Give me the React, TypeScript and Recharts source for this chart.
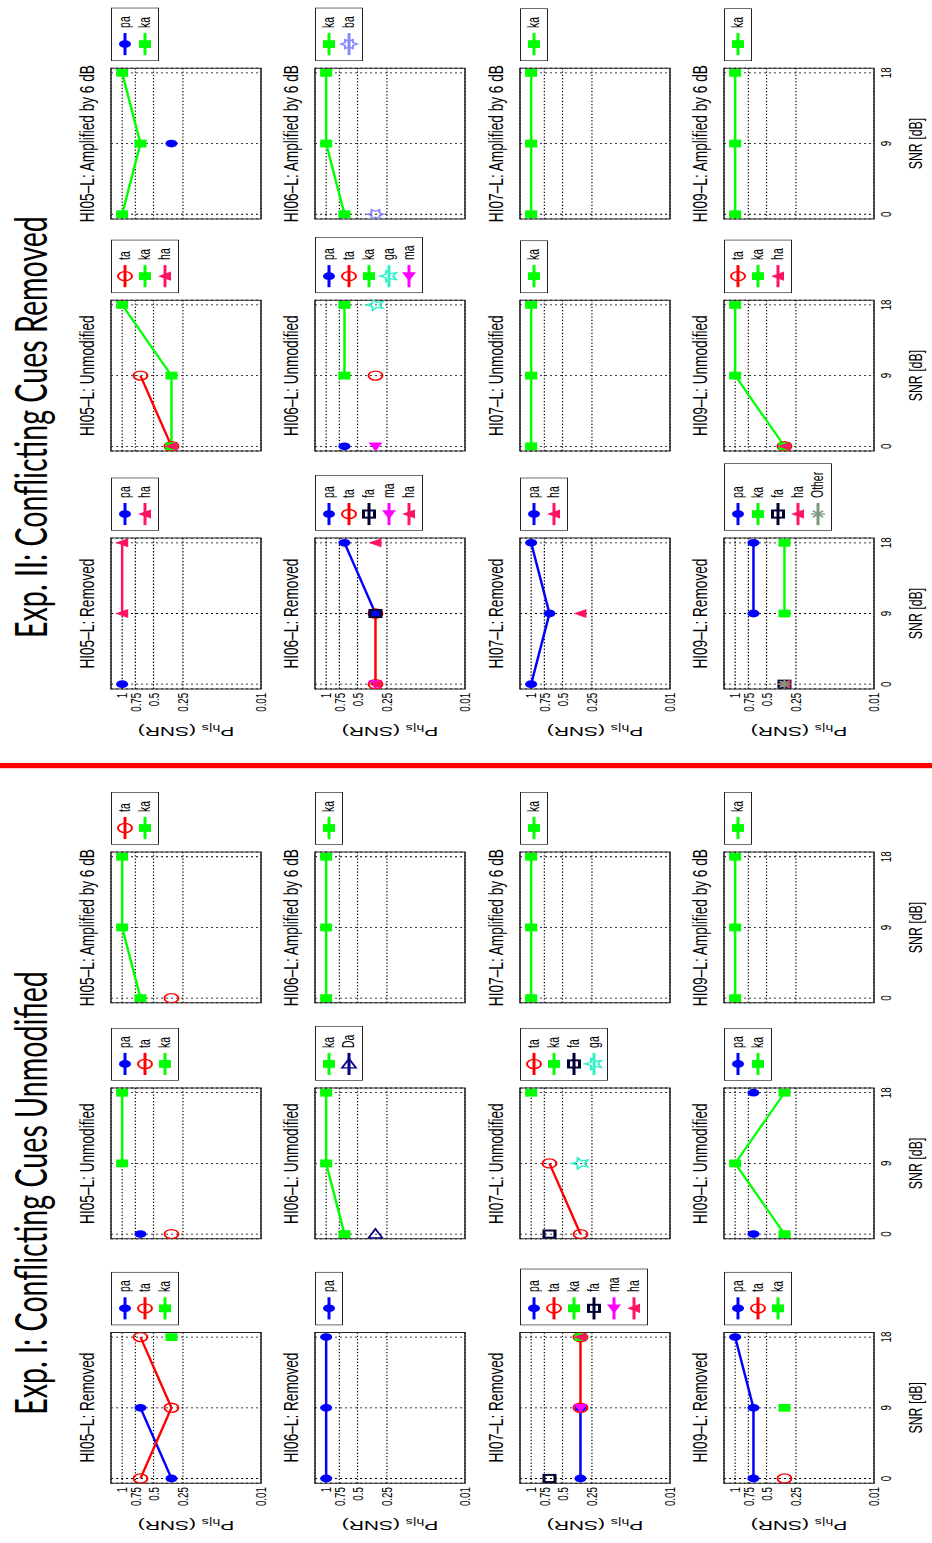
import React from 'react';
import { LineChart, Line, XAxis, YAxis, CartesianGrid, ReferenceArea, Legend } from 'recharts';

const SNR = [0, 9, 18];
const Y_TICKS = [0.01, 0.25, 0.5, 0.75, 1];
const SUBJECTS = ['HI05', 'HI06', 'HI07', 'HI09'];
const CONDITIONS = ['Removed', 'Unmodified', 'Amplified by 6 dB'];
const EXP_TITLES = ['Exp. I: Conflicting Cues Unmodified', 'Exp. II: Conflicting Cues Removed'];

type Vals = Record<string, (number | null)[]>;

// values at SNR 0, 9, 18 dB; null = response not given
// Exp. I
const e1Hi05Rem: Vals = { pa: [0.33, 0.67, null], ta: [0.67, 0.33, 0.67], ka: [null, null, 0.33] };
const e1Hi05Unm: Vals = { pa: [0.67, null, null], ta: [0.33, null, null], ka: [null, 1, 1] };
const e1Hi05Amp: Vals = { ta: [0.33, null, null], ka: [0.67, 1, 1] };
const e1Hi06Rem: Vals = { pa: [1, 1, 1] };
const e1Hi06Unm: Vals = { ka: [0.67, 1, 1], Da: [0.33, null, null] };
const e1Hi06Amp: Vals = { ka: [1, 1, 1] };
const e1Hi07Rem: Vals = { pa: [0.33, 0.33, null], ta: [null, 0.33, 0.33], ka: [null, null, 0.33], fa: [0.67, null, null], ma: [null, 0.33, null], ha: [null, null, 0.33] };
const e1Hi07Unm: Vals = { ta: [0.33, 0.67, null], ka: [null, null, 1], fa: [0.67, null, null], ga: [null, 0.33, null] };
const e1Hi07Amp: Vals = { ka: [1, 1, 1] };
const e1Hi09Rem: Vals = { pa: [0.67, 0.67, 1], ta: [0.33, null, null], ka: [null, 0.33, null] };
const e1Hi09Unm: Vals = { pa: [0.67, null, 0.67], ka: [0.33, 1, 0.33] };
const e1Hi09Amp: Vals = { ka: [1, 1, 1] };

// Exp. II
const e2Hi05Rem: Vals = { pa: [1, null, null], ha: [null, 1, 1] };
const e2Hi05Unm: Vals = { ta: [0.33, 0.67, null], ka: [0.33, 0.33, 1], ha: [0.33, null, null] };
const e2Hi05Amp: Vals = { pa: [null, 0.33, null], ka: [1, 0.67, 1] };
const e2Hi06Rem: Vals = { pa: [null, 0.33, 0.67], ta: [0.33, 0.33, null], fa: [null, 0.33, null], ma: [0.33, null, null], ha: [0.33, null, 0.33] };
const e2Hi06Unm: Vals = { pa: [0.67, null, null], ta: [null, 0.33, null], ka: [null, 0.67, 0.67], ga: [null, null, 0.33], ma: [0.33, null, null] };
const e2Hi06Amp: Vals = { ka: [0.67, 1, 1], ba: [0.33, null, null] };
const e2Hi07Rem: Vals = { pa: [1, 0.67, 1], ha: [null, 0.33, null] };
const e2Hi07Unm: Vals = { ka: [1, 1, 1] };
const e2Hi07Amp: Vals = { ka: [1, 1, 1] };
const e2Hi09Rem: Vals = { pa: [null, 0.67, 0.67], ka: [null, 0.33, 0.33], fa: [0.33, null, null], ha: [0.33, null, null], Other: [0.33, null, null] };
const e2Hi09Unm: Vals = { ta: [0.33, null, null], ka: [0.33, 1, 1], ha: [0.33, null, null] };
const e2Hi09Amp: Vals = { ka: [1, 1, 1] };

const PANELS = [
  { exp: 0, row: 0, cond: 0, vals: e1Hi05Rem }, { exp: 0, row: 0, cond: 1, vals: e1Hi05Unm }, { exp: 0, row: 0, cond: 2, vals: e1Hi05Amp },
  { exp: 0, row: 1, cond: 0, vals: e1Hi06Rem }, { exp: 0, row: 1, cond: 1, vals: e1Hi06Unm }, { exp: 0, row: 1, cond: 2, vals: e1Hi06Amp },
  { exp: 0, row: 2, cond: 0, vals: e1Hi07Rem }, { exp: 0, row: 2, cond: 1, vals: e1Hi07Unm }, { exp: 0, row: 2, cond: 2, vals: e1Hi07Amp },
  { exp: 0, row: 3, cond: 0, vals: e1Hi09Rem }, { exp: 0, row: 3, cond: 1, vals: e1Hi09Unm }, { exp: 0, row: 3, cond: 2, vals: e1Hi09Amp },
  { exp: 1, row: 0, cond: 0, vals: e2Hi05Rem }, { exp: 1, row: 0, cond: 1, vals: e2Hi05Unm }, { exp: 1, row: 0, cond: 2, vals: e2Hi05Amp },
  { exp: 1, row: 1, cond: 0, vals: e2Hi06Rem }, { exp: 1, row: 1, cond: 1, vals: e2Hi06Unm }, { exp: 1, row: 1, cond: 2, vals: e2Hi06Amp },
  { exp: 1, row: 2, cond: 0, vals: e2Hi07Rem }, { exp: 1, row: 2, cond: 1, vals: e2Hi07Unm }, { exp: 1, row: 2, cond: 2, vals: e2Hi07Amp },
  { exp: 1, row: 3, cond: 0, vals: e2Hi09Rem }, { exp: 1, row: 3, cond: 1, vals: e2Hi09Unm }, { exp: 1, row: 3, cond: 2, vals: e2Hi09Amp },
];

const STYLE: Record<string, { color: string }> = {
  pa: { color: '#0000FF' },
  ta: { color: '#FF0000' },
  ka: { color: '#00FF00' },
  fa: { color: '#000033' },
  ma: { color: '#FF00FF' },
  ha: { color: '#FF1463' },
  ga: { color: '#33F0C8' },
  Da: { color: '#000080' },
  ba: { color: '#8888FF' },
  Other: { color: '#7A9A7A' },
};

// the original figure is squeezed horizontally; draw wide, then squeeze and turn
const S = 0.65;
const FONT = "'Liberation Sans', Arial, Helvetica, sans-serif";
const ROW_TOP = [111, 315, 520, 724];
const COL_LEFT = [60, 304, 540, 854, 1092, 1324];

// warped log scale of the y axis (0.01 .. ~1.27)
const OFF = 0.05;
const tr = (p: number) => Math.log10(p + OFF);
const Y_MIN = tr(0.01);
const Y_MAX = tr(1) + 0.1;

const PL = 95;
const PW = 232;
const PR = 150;
const PT = 45;
const PH = 150;
const PB = 55;

function star(x: number, y: number, n: number, ro: number, ri: number) {
  const pts: string[] = [];
  for (let i = 0; i < n * 2; i++) {
    const r = i % 2 === 0 ? ro : ri;
    const a = -Math.PI / 2 + (i * Math.PI) / n;
    pts.push(`${x + r * Math.cos(a)},${y + r * Math.sin(a)}`);
  }
  return pts.join(' ');
}

function Marker({ kind, x, y }: { kind: string; x: number; y: number }) {
  const c = STYLE[kind].color;
  switch (kind) {
    case 'pa':
      return <circle cx={x} cy={y} r={6} fill={c} />;
    case 'ta':
      return <circle cx={x} cy={y} r={7} fill="none" stroke={c} strokeWidth={2} />;
    case 'ka':
      return <rect x={x - 6} y={y - 6} width={12} height={12} fill={c} />;
    case 'fa':
      return <rect x={x - 5.5} y={y - 5.5} width={11} height={11} fill="none" stroke={c} strokeWidth={3} />;
    case 'ma':
      return <polygon points={`${x - 8},${y} ${x + 6},${y - 7} ${x + 6},${y + 7}`} fill={c} />;
    case 'ha':
      return <polygon points={`${x},${y - 7} ${x - 7},${y + 6} ${x + 7},${y + 6}`} fill={c} />;
    case 'Da':
      return <polygon points={`${x + 8},${y} ${x - 6},${y - 7} ${x - 6},${y + 7}`} fill="none" stroke={c} strokeWidth={2} />;
    case 'ga':
      return <polygon points={star(x, y, 5, 9, 4)} fill="none" stroke={c} strokeWidth={2} />;
    case 'ba':
      return <polygon points={star(x, y, 6, 8, 4.5)} fill="none" stroke={c} strokeWidth={2} />;
    default:
      return (
        <g stroke={c} strokeWidth={2}>
          <line x1={x - 7} x2={x + 7} y1={y} y2={y} />
          <line x1={x} x2={x} y1={y - 7} y2={y + 7} />
          <line x1={x - 5} x2={x + 5} y1={y - 5} y2={y + 5} />
          <line x1={x - 5} x2={x + 5} y1={y + 5} y2={y - 5} />
        </g>
      );
  }
}

const dotFor = (k: string) => (p: any) => {
  const key = `${k}-${p.index}`;
  if (p.cx == null || p.cy == null || Number.isNaN(p.cy) || p.value == null) return <g key={key} />;
  return (
    <g key={key}>
      <Marker kind={k} x={p.cx} y={p.cy} />
    </g>
  );
};

function LegendBox({ keys }: { keys: string[] }) {
  return (
    <div style={{ border: '1.5px solid #222', background: '#fff', padding: '3px 12px 3px 8px', display: 'inline-block' }}>
      {keys.map((k) => (
        <div key={k} style={{ display: 'flex', alignItems: 'center', height: 20 }}>
          <svg width={34} height={20} style={{ overflow: 'visible' }}>
            <line x1={0} x2={34} y1={10} y2={10} stroke={STYLE[k].color} strokeWidth={3} />
            <Marker kind={k} x={17} y={10} />
          </svg>
          <span style={{ marginLeft: 8, fontSize: 16, lineHeight: '20px', fontFamily: FONT, color: '#000' }}>{k}</span>
        </div>
      ))}
    </div>
  );
}

const fmtY = (t: number) => {
  let best = Y_TICKS[0];
  Y_TICKS.forEach((v) => {
    if (Math.abs(tr(v) - t) < Math.abs(tr(best) - t)) best = v;
  });
  return String(best);
};

// keeps the ticks (and so the grid) but draws no label
const noTick = (p: any) => <g key={p.index} />;
const tickStyle = { fontSize: 15, fill: '#000', fontFamily: FONT };

const yLabel = (props: any) => {
  const vb = props.viewBox;
  const cx = vb.x + 10;
  const cy = vb.y + vb.height / 2;
  return (
    <text x={cx} y={cy} transform={`rotate(-90 ${cx} ${cy})`} textAnchor="middle" dominantBaseline="central" fontSize={21} fontFamily={FONT} fill="#000">
      <tspan>P</tspan>
      <tspan fontSize={14} dy={5}>h|s</tspan>
      <tspan dy={-5}> (SNR)</tspan>
    </text>
  );
};

const xLabel = (props: any) => {
  const vb = props.viewBox;
  return (
    <text x={vb.x + vb.width / 2} y={vb.y + 48} textAnchor="middle" fontSize={19} fontFamily={FONT} fill="#000">
      SNR [dB]
    </text>
  );
};

function Panel({ exp, row, cond, vals }: { exp: number; row: number; cond: number; vals: Vals }) {
  const keys = Object.keys(vals);
  const data = SNR.map((snr, i) => {
    const r: Record<string, number | null> = { snr };
    keys.forEach((k) => {
      const v = vals[k][i];
      r[k] = v == null ? null : tr(v);
    });
    return r;
  });
  const boxL = COL_LEFT[exp * 3 + cond] / S;
  const boxT = ROW_TOP[row];
  const first = cond === 0;
  const last = row === 3;
  const title = `${SUBJECTS[row]}–L: ${CONDITIONS[cond]}`;
  return (
    <>
      <div
        style={{
          position: 'absolute',
          left: boxL - 100,
          width: PW + 200,
          top: boxT - 36,
          textAlign: 'center',
          fontFamily: FONT,
          fontSize: 21,
          lineHeight: '24px',
          color: '#000',
          whiteSpace: 'nowrap',
        }}
      >
        {title}
      </div>
      <div style={{ position: 'absolute', left: boxL - PL, top: boxT - PT }}>
        <LineChart width={PL + PW + PR} height={PT + PH + PB} data={data} margin={{ top: PT, right: PR, bottom: 0, left: 20 }}>
          <CartesianGrid stroke="#000" strokeDasharray="2 3" strokeWidth={1.2} fill="none" />
          <XAxis
            type="number"
            dataKey="snr"
            domain={[-0.6, 18.6]}
            ticks={SNR}
            allowDataOverflow
            interval={0}
            height={PB}
            axisLine={false}
            tickLine={false}
            tickSize={4}
            tick={last ? tickStyle : noTick}
            label={last ? { content: xLabel } : undefined}
          />
          <YAxis
            type="number"
            domain={[Y_MIN, Y_MAX]}
            ticks={Y_TICKS.map(tr)}
            allowDataOverflow
            interval={0}
            width={75}
            axisLine={false}
            tickLine={false}
            tickSize={4}
            tickMargin={2}
            tickFormatter={fmtY}
            tick={first ? tickStyle : noTick}
            label={first ? { content: yLabel } : undefined}
          />
          <ReferenceArea x1={-0.6} x2={18.6} y1={Y_MIN} y2={Y_MAX} fill="none" stroke="#222" strokeWidth={1.5} ifOverflow="visible" />
          {keys.map((k) => (
            <Line
              key={k}
              type="linear"
              dataKey={k}
              stroke={STYLE[k].color}
              strokeWidth={2.5}
              dot={dotFor(k)}
              activeDot={false}
              connectNulls={false}
              isAnimationActive={false}
            />
          ))}
          <Legend
            layout="vertical"
            align="center"
            verticalAlign="middle"
            wrapperStyle={{ left: PL + PW + 11, top: PT, width: 'auto', height: 'auto' }}
            content={() => <LegendBox keys={keys} />}
          />
        </LineChart>
      </div>
    </>
  );
}

export default function App() {
  return (
    <div
      style={{
        position: 'absolute',
        left: 0,
        top: 0,
        width: 1543 / S,
        height: 932,
        background: '#fff',
        transformOrigin: '0 0',
        transform: `translate(0px, 1543px) rotate(-90deg) scale(${S}, 1)`,
      }}
    >
      {EXP_TITLES.map((t, i) => (
        <div
          key={t}
          style={{
            position: 'absolute',
            left: (i === 0 ? 350 : 1116) / S - 600,
            width: 1200,
            top: 3,
            textAlign: 'center',
            fontFamily: "Lato, 'Open Sans', sans-serif",
            fontSize: 44,
            lineHeight: '54px',
            color: '#000',
            whiteSpace: 'nowrap',
          }}
        >
          {t}
        </div>
      ))}
      <div style={{ position: 'absolute', left: 775 / S, width: 5 / S, top: 0, height: 932, background: '#FF0000' }} />
      {PANELS.map((p, i) => (
        <Panel key={i} exp={p.exp} row={p.row} cond={p.cond} vals={p.vals} />
      ))}
    </div>
  );
}
